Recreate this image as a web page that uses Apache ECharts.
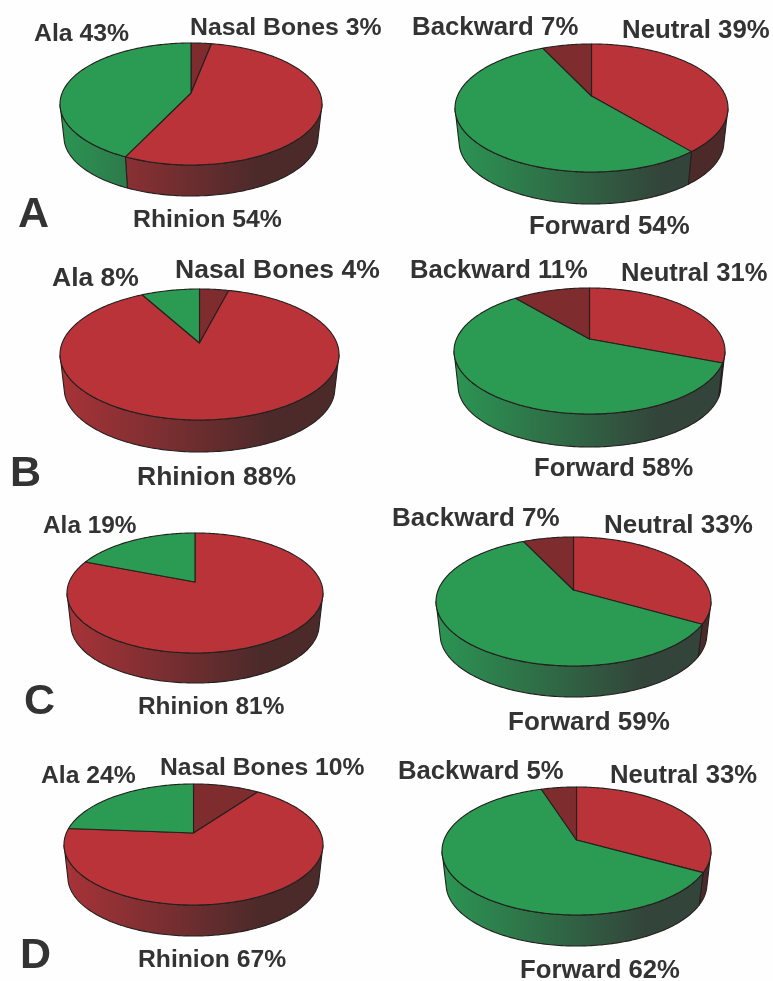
<!DOCTYPE html>
<html><head><meta charset="utf-8">
<style>html,body{margin:0;padding:0;background:#fff}#c{width:773px;height:981px}</style>
<script src="https://cdn.jsdelivr.net/npm/echarts@6/dist/echarts.min.js"></script>
</head><body><div id="c"></div>
<script>
// ---- data ----
const leftNames3 = ['Nasal Bones', 'Rhinion', 'Ala'];
const leftNames2 = ['Rhinion', 'Ala'];
const rightNames = ['Neutral', 'Forward', 'Backward'];
const panelLetters = ['A', 'B', 'C', 'D'];
const valuesAL = [3, 54, 43];
const valuesAR = [39, 54, 7];
const valuesBL = [4, 88, 8];
const valuesBR = [31, 58, 11];
const valuesCL = [81, 19];
const valuesCR = [33, 59, 7];
const valuesDL = [10, 67, 24];
const valuesDR = [33, 62, 5];

// ---- styling / layout ----
const TOP = {Rhinion:'#b93338', Neutral:'#b93338', Ala:'#2b9a53', Forward:'#2b9a53', 'Nasal Bones':'#7f2c2f', Backward:'#7f2c2f'};
const WALL = {
  '#b93338':['#a83338','#4d2a2a'],
  '#2b9a53':['#2b9553','#33453a'],
  '#7f2c2f':['#6a2a2c','#4d2a2a']
};
const pies = [
 {names:leftNames3, values:valuesAL, l:60,  r:322, t:43,  b:165, w:196, ay:93,  fs:24.8, lab:[[190,28],[133,220],[34,34]]},
 {names:rightNames, values:valuesAR, l:455, r:728, t:44,  b:172, w:204, ay:96,  fs:25.8, lab:[[622,31],[529,227],[412,28]]},
 {names:leftNames3, values:valuesBL, l:60,  r:339, t:289, b:420, w:452, ay:343, fs:26.5, lab:[[175,271],[137,478],[52,279]]},
 {names:rightNames, values:valuesBR, l:454, r:725, t:288, b:414, w:447, ay:339, fs:25.6, lab:[[621,274],[534,469],[410,271]]},
 {names:leftNames2, values:valuesCL, l:67,  r:323, t:533, b:653, w:683, ay:582, fs:24.4, lab:[[138,707],[43,526]]},
 {names:rightNames, values:valuesCR, l:436, r:711, t:537, b:666, w:697, ay:590, fs:26,   lab:[[604,526],[508,723],[392,519]]},
 {names:leftNames3, values:valuesDL, l:64,  r:323, t:784, b:905, w:936, ay:833, fs:24.7, lab:[[160,768],[138,960],[41,776]]},
 {names:rightNames, values:valuesDR, l:442, r:711, t:787, b:915, w:946, ay:840, fs:25.7, lab:[[610,776],[520,971],[398,772]]}
];
const letterPos = [[18,215],[10,474.5],[24,702],[20,956.5]];
const FONT = '"Liberation Sans", Arial, sans-serif';
const OUT = '#23201f';
const BASE_SCALE = 0.97;  // lower rim of the disc is seen slightly smaller
const TANGENT = 0.08;     // how far round the lower rim the side silhouette meets it

function grad(x0,x1,c){
  return new echarts.graphic.LinearGradient(x0,0,x1,0,[
    {offset:0,color:c[0]},{offset:.75,color:c[1]},{offset:1,color:c[1]}],true);
}
function makeSeries(p){
  const total = p.values.reduce((a,b)=>a+b,0);
  const cx=(p.l+p.r)/2, rx=(p.r-p.l)/2, cy=(p.t+p.b)/2, ry=(p.b-p.t)/2;
  const k=(cy-p.ay)/ry;
  // perspective map of a point on the pie's rim (share of the turn, clockwise from 12 o'clock)
  const rim=share=>{
    const a=share*2*Math.PI, x=Math.sin(a), y=Math.cos(a), d=1+k*y;
    return {x:x*Math.sqrt(1-k*k)/d, y:(y+k)/d};
  };
  const toPx=q=>[cx+rx*q.x, cy-ry*q.y];
  const cyBase=p.w-ry*BASE_SCALE;
  const onBase=q=>[cx+rx*BASE_SCALE*q.x, cyBase-ry*BASE_SCALE*q.y];
  const toBase=q=>{
    if(q.y<=-TANGENT) return onBase(q);
    const sgn=q.x<0?-1:1, f=-q.y/TANGENT;
    const a=toPx({x:sgn,y:0}), b=onBase({x:sgn*Math.sqrt(1-TANGENT*TANGENT),y:-TANGENT});
    return [a[0]+(b[0]-a[0])*f, a[1]+(b[1]-a[1])*f];
  };
  return {
    type:'custom', coordinateSystem:'none', silent:true, animation:false, clip:false,
    data:p.values.map(v=>[v]),
    renderItem(params,api){
      const i=params.dataIndex, v=api.value(0);
      let before=0; for(let j=0;j<i;j++) before+=p.values[j];
      const s0=before/total, s1=(before+v)/total, n=Math.max(4,Math.ceil((s1-s0)*360));
      const arc=[]; for(let j=0;j<=n;j++) arc.push(rim(s0+(s1-s0)*j/n));
      const color=TOP[p.names[i]], ch=[];
      const front=arc.filter(q=>q.y<=0);
      if(front.length>1){
        const pts=front.map(toPx).concat(front.slice().reverse().map(toBase));
        ch.push({type:'polygon',z2:1,shape:{points:pts},
          style:{fill:grad(p.l,p.r,WALL[color]),stroke:OUT,lineWidth:1.1,lineJoin:'round'}});
      }
      ch.push({type:'polygon',z2:2,shape:{points:[[cx,p.ay]].concat(arc.map(toPx))},
        style:{fill:color,stroke:OUT,lineWidth:1.1,lineJoin:'round'}});
      ch.push({type:'text',z2:3,style:{text:p.names[i]+' '+v+'%',x:p.lab[i][0],y:p.lab[i][1],
        textAlign:'left',textVerticalAlign:'middle',fill:'#333333',
        font:'bold '+p.fs+'px '+FONT}});
      return {type:'group',children:ch};
    }
  };
}
const chart=echarts.init(document.getElementById('c'),null,{renderer:'canvas',width:773,height:981});
chart.setOption({
  animation:false,
  backgroundColor:'#fefefe',
  graphic:panelLetters.map((t,i)=>({type:'text',x:letterPos[i][0],y:letterPos[i][1],z:5,
    style:{text:t,fill:'#333333',textVerticalAlign:'middle',font:'bold 43px '+FONT}})),
  series:pies.map(makeSeries)
});
</script></body></html>
